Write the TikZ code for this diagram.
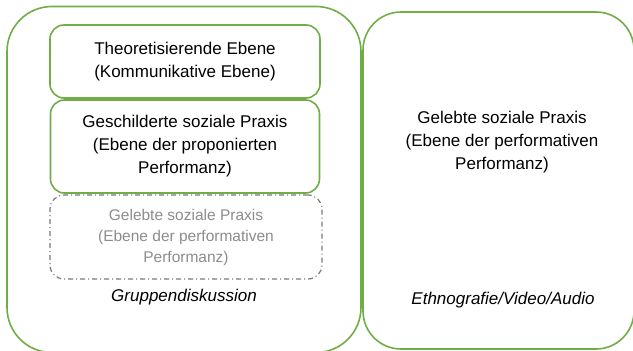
\documentclass[tikz,border=0pt]{standalone}
\usepackage{fontspec}
\setmainfont{Liberation Sans}
\definecolor{grn}{RGB}{112,173,71}
\definecolor{gtext}{RGB}{140,140,140}
\definecolor{gline}{RGB}{120,120,120}
\begin{document}
\begin{tikzpicture}[x=1pt,y=-1pt,
  outer/.style={draw=grn,line width=1.6pt,rounded corners=#1,inner sep=0pt},
  inbox/.style={draw=grn,line width=1.6pt,rounded corners=14pt,inner sep=0pt,align=center,
    font=\fontsize{17}{23}\selectfont},
  ghost/.style={draw=gline,line width=1.2pt,dash pattern=on 5pt off 3pt on 1pt off 3pt,
    rounded corners=14pt,inner sep=0pt,align=center,text=gtext,font=\fontsize{15.5}{21}\selectfont},
  plain/.style={align=center,inner sep=0pt,font=\fontsize{17}{23}\selectfont},
  lbl/.style={inner sep=0pt,font=\fontsize{17}{20}\selectfont\itshape}]
\useasboundingbox (0,0) rectangle (633,351);
\clip (0,0) rectangle (633,351);
\node[outer=45pt,minimum width=354pt,minimum height=346pt] (L) at (184,179.5) {};
\node[outer=38pt,minimum width=271pt,minimum height=337pt] (R) at (498.5,180.5) {};
\node[inbox,minimum width=270pt,minimum height=73pt] (b1) at (185,61.5) {Theoretisierende Ebene\\(Kommunikative Ebene)};
\node[inbox,minimum width=269pt,minimum height=93pt] (b2) at (185,146.5) {Geschilderte soziale Praxis\\(Ebene der proponierten\\Performanz)};
\node[ghost,minimum width=272pt,minimum height=84pt] (b3) at (186,237) {Gelebte soziale Praxis\\(Ebene der performativen\\Performanz)};
\node[lbl] (gd) at (184,297) {Gruppendiskussion};
\node[plain] (rt) at (502,142) {Gelebte soziale Praxis\\(Ebene der performativen\\Performanz)};
\node[lbl] (et) at (503,300) {Ethnografie/Video/Audio};
\end{tikzpicture}
\end{document}
